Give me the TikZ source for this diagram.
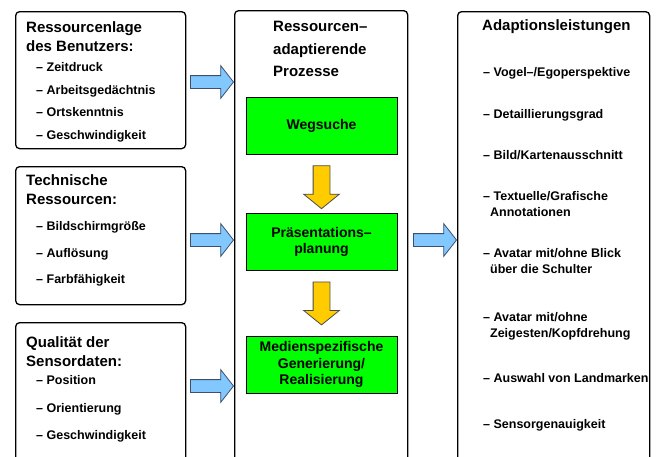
\documentclass[tikz,border=0pt]{standalone}
\usepackage{fontspec}
\setmainfont{Liberation Sans}
\usepackage{xcolor}
\usepackage{tikz}
\usetikzlibrary{shapes.arrows,calc}

\definecolor{hellblau}{RGB}{130,200,255}
\definecolor{blaurand}{RGB}{60,80,110}
\definecolor{gelb}{RGB}{255,204,0}
\definecolor{gruen}{RGB}{0,255,0}

\newcommand{\titelschrift}{\fontsize{15}{19}\selectfont\bfseries}
\newcommand{\punktschrift}{\fontsize{12.5}{16}\selectfont\bfseries}

\begin{document}
\begin{tikzpicture}[x=1pt,y=-1pt,line join=miter,
                    font=\bfseries]
  \tikzstyle{kasten}=[draw,rounded corners=4pt,line width=1.3pt,fill=white,
                      anchor=north west,inner sep=0pt]
  \tikzstyle{ueberschrift}=[anchor=north west,align=left,inner sep=0pt,
                     font=\titelschrift]
  \tikzstyle{punkt}=[anchor=base west,align=left,inner sep=0pt,
                     font=\punktschrift]
  \tikzstyle{prozess}=[draw,line width=0.9pt,fill=gruen,minimum width=151,
                       minimum height=57,align=center,
                       font=\bfseries\fontsize{14}{16.5}\selectfont]
  \tikzstyle{blaupfeil}=[single arrow,draw=blaurand,fill=hellblau,line width=0.8pt,
                         minimum height=43,minimum width=32,inner xsep=0pt,inner ysep=6pt,
                         single arrow head extend=10,single arrow tip angle=104]
  \tikzstyle{gelbpfeil}=[single arrow,draw=black!70,fill=gelb,line width=0.8pt,
                         minimum height=43,minimum width=35,inner xsep=8pt,inner ysep=0pt,
                         single arrow head extend=9.5,single arrow tip angle=102,
                         shape border rotate=270]

  \useasboundingbox (0,0) rectangle (659,456);
  \clip (0,0) rectangle (659,456);

  % Kaesten
  \node[kasten,minimum width=170,minimum height=137] (benutzer) at (15,11) {};
  \node[kasten,minimum width=170,minimum height=138] (technik) at (15,166) {};
  \node[kasten,minimum width=170,minimum height=160] (sensor) at (15,322) {};
  \node[kasten,minimum width=173,minimum height=470] (prozesse) at (234,10) {};
  \node[kasten,minimum width=192,minimum height=470] (leistungen) at (457,11) {};

  % Ressourcenlage
  \node[ueberschrift] (benutzertitel) at (26,21) {\textbf{Ressourcenlage}\\\textbf{des Benutzers:}};
  \node[punkt] (zeitdruck) at (36,71) {– Zeitdruck};
  \node[punkt] (gedaechtnis) at (36,94) {– Arbeitsgedächtnis};
  \node[punkt] (ortskenntnis) at (36,116) {– Ortskenntnis};
  \node[punkt] (tempoA) at (36,139) {– Geschwindigkeit};

  \node[ueberschrift] (techniktitel) at (26,174) {\textbf{Technische}\\\textbf{Ressourcen:}};
  \node[punkt] (bildschirm) at (36,230) {– Bildschirmgröße};
  \node[punkt] (aufloesung) at (36,257) {– Auflösung};
  \node[punkt] (farbe) at (36,283) {– Farbfähigkeit};

  \node[ueberschrift] (sensortitel) at (26,336) {\textbf{Qualität der}\\\textbf{Sensordaten:}};
  \node[punkt] (position) at (36,384) {– Position};
  \node[punkt] (orientierung) at (36,412) {– Orientierung};
  \node[punkt] (tempoB) at (36,439) {– Geschwindigkeit};

  % Prozesse
  \node[ueberschrift,font=\fontsize{15}{22.5}\selectfont\bfseries] (prozesstitel) at (273,21)
       {\textbf{Ressourcen–}\\\textbf{adaptierende}\\\textbf{Prozesse}};
  \node[prozess] (wegsuche) at (321.5,125.5) {Wegsuche};
  \node[prozess] (planung) at (321.5,242) {Präsentations–\\planung};
  \node[prozess] (medien) at (321.5,364.5) {Medienspezifische\\Generierung/\\Realisierung};
  \node[gelbpfeil] (gelbA) at ($(wegsuche.south)!0.5!(planung.north)$) {};
  \node[gelbpfeil] (gelbB) at ($(planung.south)!0.45!(medien.north)$) {};

  % Adaptionsleistungen
  \node[ueberschrift] (leistungstitel) at (482,19) {\textbf{Adaptionsleistungen}};
  \node[punkt] (vogel) at (483,76) {– Vogel–/Egoperspektive};
  \node[punkt] (detail) at (483,118) {– Detaillierungsgrad};
  \node[punkt] (ausschnitt) at (483,159) {– Bild/Kartenausschnitt};
  \node[punkt] (annotation) at (483,216.5) {– Textuelle/Grafische\\\hphantom{–}Annotationen};
  \node[punkt] (blick) at (483,273.5) {– Avatar mit/ohne Blick\\\hphantom{–}über die Schulter};
  \node[punkt] (zeigeste) at (483,337.5) {– Avatar mit/ohne\\\hphantom{–}Zeigesten/Kopfdrehung};
  \node[punkt] (landmarke) at (483,382) {– Auswahl von Landmarken};
  \node[punkt] (genauigkeit) at (483,428) {– Sensorgenauigkeit};

  % Pfeile
  \node[blaupfeil] (blauA) at (209.5,82) {};
  \node[blaupfeil] (blauB) at (209.5,240) {};
  \node[blaupfeil] (blauC) at (209.5,386) {};
  \node[blaupfeil] (blauD) at (432.5,240) {};
\end{tikzpicture}
\end{document}
